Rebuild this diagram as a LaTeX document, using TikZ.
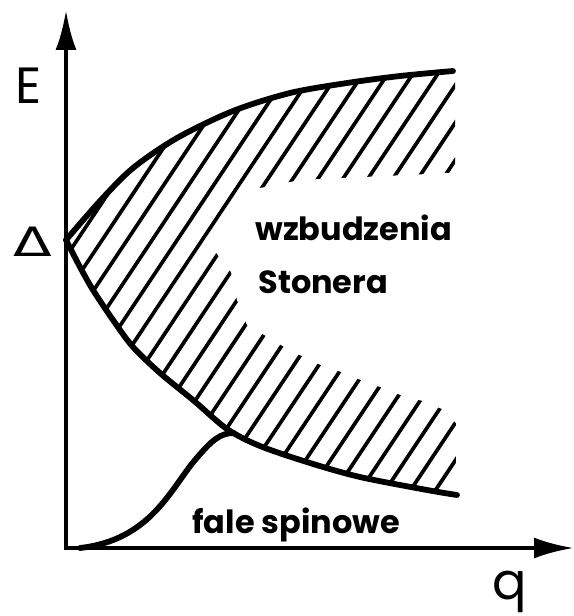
\documentclass[tikz,border=0pt]{standalone}
\usepackage{fontspec}
\setmainfont{Poppins}
\newfontfamily\deltafont{DejaVu Sans}
\usetikzlibrary{arrows.meta}

\tikzset{
  axis/.style={line width=2.4pt, line join=miter,
    {Latex[length=0.8cm,width=0.42cm]}-{Latex[length=0.8cm,width=0.42cm]}},
  band/.style={line width=3.3pt, line cap=round, line join=round},
  hatch/.style={line width=2.1pt, line cap=round},
  lbl/.style={inner sep=0pt, font=\bfseries\fontsize{18.2}{23}\selectfont},
  biglbl/.style={inner sep=0pt, font=\fontsize{29}{33}\selectfont},
}

\begin{document}
\begin{tikzpicture}[x=0.02cm, y=-0.02cm]
\useasboundingbox (0,0) rectangle (574,616);

% axes
\coordinate (O) at (66,548);
\coordinate (Etip) at (66,10);
\coordinate (qtip) at (574,548);
\draw[axis] (Etip) -- (O) -- (qtip);

% hatched continuum
\begin{scope}
  \clip plot[smooth] coordinates {(66,240) (100,201) (133,168) (177,138) (233,111)
      (290,93) (347,83) (400,76) (455,70)}
    -- (456,497)
    -- plot[smooth] coordinates {(456,497) (427,490) (360,477) (310,463) (260,446)
      (227,429) (193,400) (160,373) (133,347) (113,320) (93,290) (80,267) (66,240)}
    -- cycle;
  \foreach \k in {-13,...,18}
    \draw[hatch] (14+25*\k,560) -- ++(373,-560);
\end{scope}
% gap for the label
\fill[white] (250,190) -- (300,180) -- (470,172) -- (470,428) -- (457,424)
  -- (442,409) -- (423,401) -- (403,396) -- (383,388) -- (363,381) -- (345,373)
  -- (325,367) -- (306,358) -- (286,348) -- (266,336) -- (247,325) -- (237,300)
  -- (231,272) -- (214,250) -- cycle;

% band edges
\draw[band] plot[smooth] coordinates {(66,240) (100,201) (133,168) (177,138) (233,111)
    (290,93) (347,83) (400,76) (453,71)};
\draw[band] plot[smooth] coordinates {(66,240) (80,267) (93,290) (113,320) (133,347)
    (160,373) (193,400) (227,429) (260,446) (310,463) (360,477) (427,490) (457,495)};

% spin waves
\coordinate (sw) at (80,548);
\coordinate (meet) at (234,433);
\draw[band] (sw) .. controls (150,540) and (170,490) .. (195,460)
  .. controls (212,440) and (220,433) .. (meet);

% labels
\node[biglbl, anchor=base west] (E) at (15,103) {E};
\node[biglbl, anchor=center] (q) at (510,592) {q};
\node[inner sep=0pt, font=\deltafont\fontsize{23}{28}\selectfont] (delta) at (33,242)
  {\scalebox{1.4}[1]{Δ}};
\node[lbl, anchor=base west] (stoner1) at (255,240) {wzbudzenia};
\node[lbl, anchor=base west] (stoner2) at (258,293) {Stonera};
\node[lbl, anchor=base west] (spin) at (192,533) {fale spinowe};
\end{tikzpicture}
\end{document}
